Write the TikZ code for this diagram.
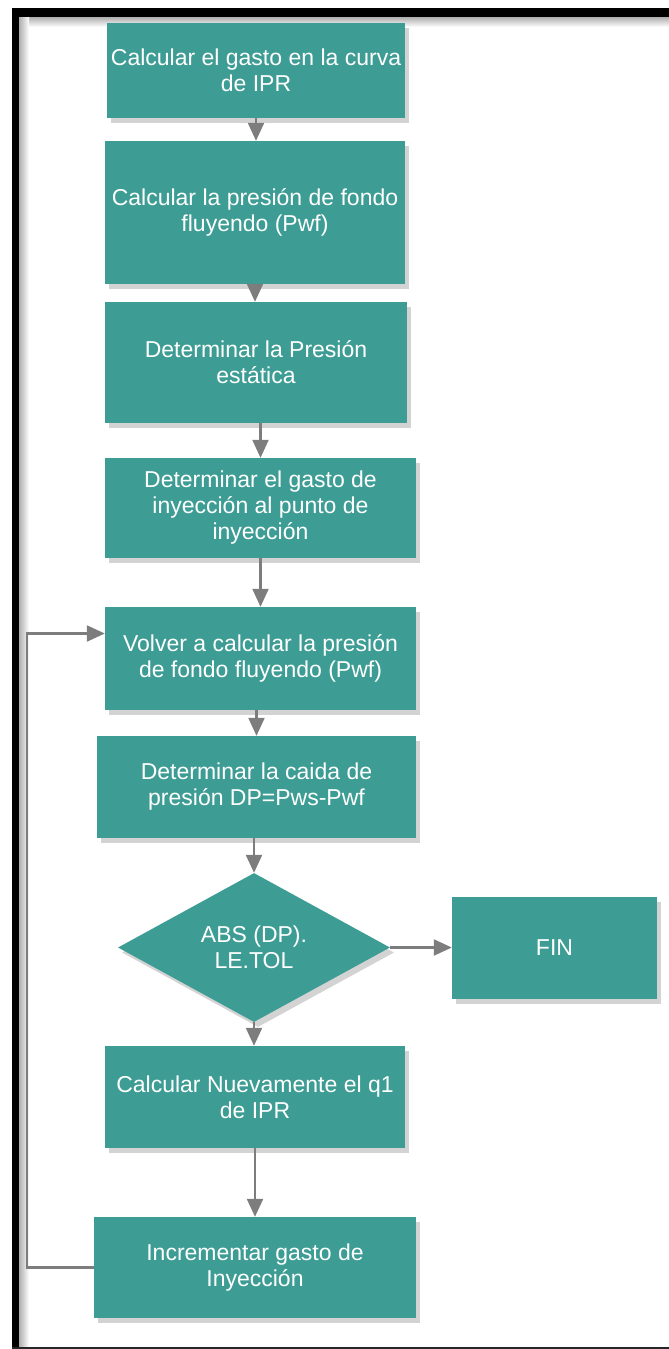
\documentclass[tikz,border=0pt]{standalone}
\usepackage{fontspec}
\setmainfont{Liberation Sans}
\usetikzlibrary{arrows.meta,shapes.geometric,shadows,calc}
\definecolor{tealbox}{RGB}{61,157,148}
\definecolor{arrgray}{RGB}{125,125,125}
\tikzset{
  box/.style={draw=none, fill=tealbox, text=white, font=\fontsize{23}{26}\selectfont,
    align=center, inner sep=0pt,
    drop shadow={shadow xshift=4pt, shadow yshift=-5pt, opacity=.35}},
  dia/.style={box, diamond},
  arr/.style={draw=arrgray, line width=2.2pt, -{Triangle[length=18pt,width=16pt]}},
}
\begin{document}
\begin{tikzpicture}[x=1pt,y=-1pt]
\useasboundingbox (0,0) rectangle (669,1349);
% frame
\shade[top color=gray!70, bottom color=white] (19,16) rectangle (669,27);
\shade[left color=gray!70, right color=white] (18,16) rectangle (29,1347);
\fill[black] (12,8) rectangle (669,17);
\fill[black] (12,8) rectangle (19,1349);
\draw[black!85, line width=2pt] (12,1348) -- (669,1348);
% nodes
\node[box, minimum width=298pt, minimum height=95pt] (n1) at (256,70.5) {Calcular el gasto en la curva\\de IPR};
\node[box, minimum width=300pt, minimum height=143pt] (n2) at (255,212.5) {Calcular la presión de fondo\\fluyendo (Pwf)};
\node[box, minimum width=302pt, minimum height=121pt] (n3) at (256,362.5) {Determinar la Presión\\estática};
\node[box, minimum width=311pt, minimum height=100pt] (n4) at (260.5,508) {Determinar el gasto de\\inyección al punto de\\inyección};
\node[box, minimum width=311pt, minimum height=103pt] (n5) at (260.5,658.5) {Volver a calcular la presión\\de fondo fluyendo (Pwf)};
\node[box, minimum width=319pt, minimum height=102pt] (n6) at (256.5,787) {Determinar la caida de\\presión DP=Pws-Pwf};
\node[dia, minimum width=272pt, minimum height=135pt] (d) at (254,947.5) {ABS (DP).\\LE.TOL};
\node[box, minimum width=205pt, minimum height=102pt] (fin) at (554.5,947.5) {FIN};
\node[box, minimum width=300pt, minimum height=102pt] (n9) at (255,1097) {Calcular Nuevamente el q1\\de IPR};
\node[box, minimum width=322pt, minimum height=101pt] (n10) at (255,1267.5) {Incrementar gasto de\\Inyección};
\coordinate (lp) at (27,1268);
% connectors
\draw[arr] (n1.south) -- (n1.south |- n2.north);
\draw[arr] (n2.south) -- (n2.south |- n3.north);
\draw[arr] (n3.south -| n4.north) -- (n4.north);
\draw[arr] (n4.south) -- (n5.north);
\draw[arr] (n5.south -| n6.north) -- (n6.north);
\draw[arr] (n6.south -| d.north) -- (d.north);
\draw[arr] (d.south) -- (d.south |- n9.north);
\draw[arr] (n9.south) -- (n9.south |- n10.north);
\draw[arr] (d.east) -- (fin.west);
\draw[arr] (n10.west) -- (n10.west -| lp) |- ([yshift=25pt]n5.west);
\end{tikzpicture}
\end{document}
